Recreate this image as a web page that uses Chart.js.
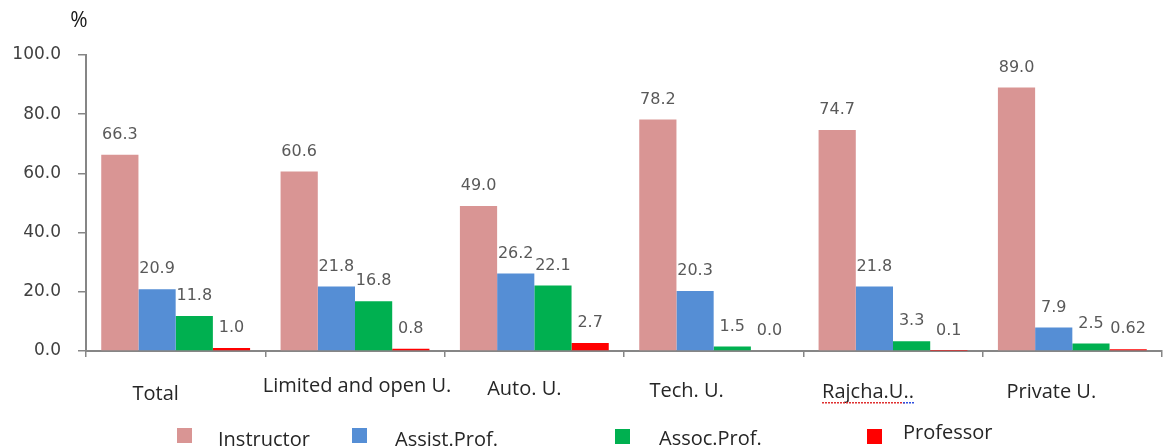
<!DOCTYPE html>
<html><head><meta charset="utf-8">
<script src="https://cdn.jsdelivr.net/npm/chart.js@4.4.1/dist/chart.umd.min.js"></script>
<style>html,body{margin:0;padding:0;background:#fff;overflow:hidden}#wrap{position:relative;width:1163px;height:447px}</style>
</head><body><div id="wrap"><canvas id="c" width="1163" height="447"></canvas></div>
<script>
// ---- data ----
const categories = ['Total', 'Limited and open U.', 'Auto. U.', 'Tech. U.', 'Rajcha.U..', 'Private U.'];
const seriesNames = ['Instructor', 'Assist.Prof.', 'Assoc.Prof.', 'Professor'];
const instructor = [66.3, 60.6, 49.0, 78.2, 74.7, 89.0];
const assistProf = [20.9, 21.8, 26.2, 20.3, 21.8, 7.9];
const assocProf  = [11.8, 16.8, 22.1, 1.5, 3.3, 2.5];
const professor  = [1.0, 0.8, 2.7, 0.0, 0.1, 0.62];
const yTicks = [0, 20, 40, 60, 80, 100];
const yUnit = '%';

// ---- styles / layout ----
const colors = ['#d99594', '#558ed5', '#00b050', '#ff0000'];
const axisColor = '#868686';
const numFont = '"DejaVu Sans", Verdana, sans-serif';
const textFont = '"Open Sans", "Segoe UI", sans-serif';
const catLabelNudge = [
  {dx: -20, base: 400}, {dx: 2, base: 392}, {dx: -10, base: 395},
  {dx: -27, base: 397}, {dx: -25, base: 398}, {dx: -21, base: 398}
];
const legendLayout = [
  {box: 177, boxTop: 428, text: 218, base: 446},
  {box: 352, boxTop: 428, text: 395, base: 446},
  {box: 615, boxTop: 429, text: 659, base: 445},
  {box: 867, boxTop: 429, text: 903, base: 439}
];

function fmt(v) {
  return Math.abs(Math.round(v * 10) - v * 10) < 1e-9 ? v.toFixed(1) : String(v);
}

function dotted(ctx, x0, x1, y, color) {
  ctx.fillStyle = color;
  for (let x = x0; x < x1; x += 3) ctx.fillRect(Math.round(x), y, 2, 1.5);
}

const overlay = {
  id: 'overlay',
  afterDatasetsDraw(chart) {
    const ctx = chart.ctx;
    const xs = chart.scales.x;
    ctx.save();
    // value labels
    ctx.font = '16px ' + numFont;
    ctx.fillStyle = '#595959';
    ctx.textAlign = 'center';
    ctx.textBaseline = 'middle';
    chart.data.datasets.forEach((ds, di) => {
      const meta = chart.getDatasetMeta(di);
      meta.data.forEach((el, i) => {
        ctx.fillText(fmt(ds.data[i]), el.x, el.y - 20);
      });
    });
    // category labels
    ctx.font = '20px ' + textFont;
    ctx.textBaseline = 'alphabetic';
    categories.forEach((c, i) => {
      const n = catLabelNudge[i];
      const cx = xs.getPixelForTick(i) + n.dx;
      ctx.fillStyle = '#262626';
      ctx.fillText(c, cx, n.base);
      if (c.indexOf('..') > 0) {
        // spell-check style underline seen in the source image
        const w = ctx.measureText(c).width;
        const x0 = cx - w / 2;
        const wMain = ctx.measureText(c.slice(0, -2)).width;
        dotted(ctx, x0, x0 + wMain, n.base + 4, '#e03030');
        dotted(ctx, x0 + wMain, x0 + w, n.base + 4, '#3050e0');
        ctx.fillStyle = '#262626';
      }
    });
    // unit label
    ctx.textAlign = 'center';
    ctx.font = '21px ' + textFont;
    ctx.fillStyle = '#1a1a1a';
    ctx.fillText(yUnit, 79, 27);
    // legend
    ctx.textAlign = 'left';
    ctx.font = '20px ' + textFont;
    chart.data.datasets.forEach((ds, di) => {
      const L = legendLayout[di];
      ctx.fillStyle = ds.backgroundColor;
      ctx.fillRect(L.box, L.boxTop, 15, 15);
      ctx.fillStyle = '#262626';
      ctx.fillText(ds.label, L.text, L.base);
    });
    ctx.restore();
  }
};

new Chart(document.getElementById('c'), {
  type: 'bar',
  data: {
    labels: categories,
    datasets: [instructor, assistProf, assocProf, professor].map((d, i) => ({
      label: seriesNames[i],
      data: d,
      backgroundColor: colors[i],
      borderWidth: 0,
      categoryPercentage: 0.83,
      barPercentage: 1.0
    }))
  },
  options: {
    responsive: false,
    animation: false,
    devicePixelRatio: 1,
    layout: {autoPadding: false, padding: {top: 55, right: 1, left: 0, bottom: 0}},
    plugins: {legend: {display: false}, tooltip: {enabled: false}},
    scales: {
      x: {
        afterFit(s) { s.height = 96; },
        grid: {offset: true, drawOnChartArea: false, drawTicks: true, tickLength: 6, color: axisColor, lineWidth: 1.5},
        border: {color: axisColor, width: 2},
        ticks: {display: false}
      },
      y: {
        min: 0, max: 100,
        afterFit(s) { s.width = 86; },
        afterBuildTicks(s) { s.ticks = yTicks.map(v => ({value: v})); },
        grid: {drawOnChartArea: false, drawTicks: true, tickLength: 8, color: axisColor, lineWidth: 1.5},
        border: {color: axisColor, width: 2},
        ticks: {
          padding: 17,
          color: '#404040',
          font: {family: numFont, size: 17},
          callback: v => Number(v).toFixed(1)
        }
      }
    }
  },
  plugins: [overlay]
});
</script>
</body></html>
